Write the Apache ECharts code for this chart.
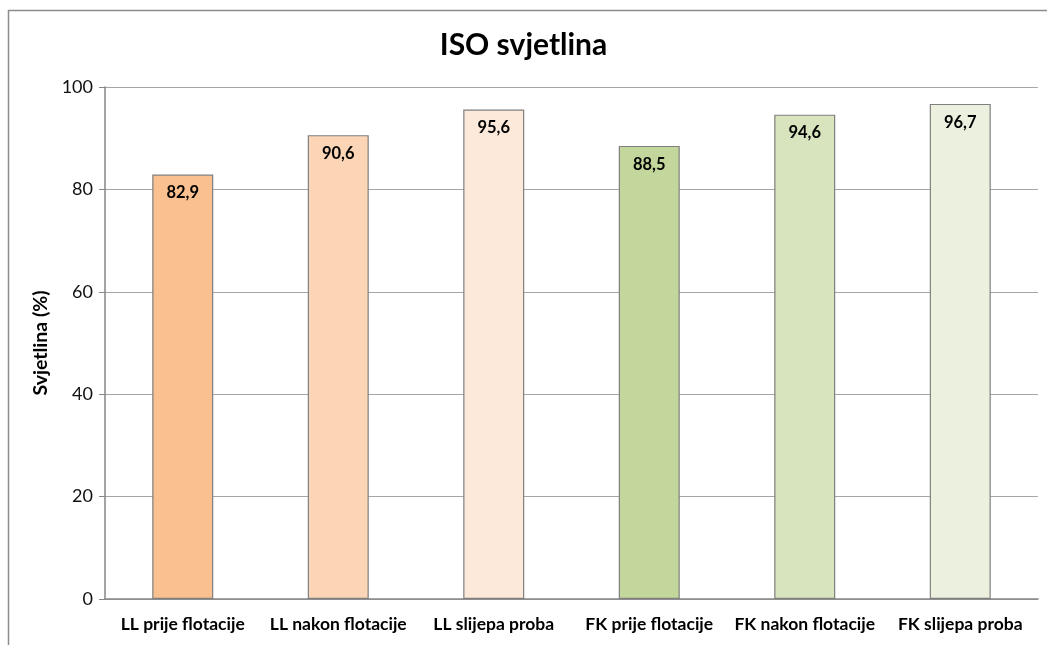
<!DOCTYPE html>
<html>
<head>
<meta charset="utf-8">
<script src="https://cdn.jsdelivr.net/npm/echarts@6/dist/echarts.min.js"></script>
<style>
html,body{margin:0;padding:0;background:#fff;}
#chart{width:1047px;height:645px;}
</style>
</head>
<body>
<div id="chart"></div>
<script>
const categories = ['LL prije flotacije','LL nakon flotacije','LL slijepa proba','FK prije flotacije','FK nakon flotacije','FK slijepa proba'];
const values = [82.9, 90.6, 95.6, 88.5, 94.6, 96.7];
const barColors = ['#FAC090','#FBD5B5','#FDE9D9','#C3D69B','#D7E4BD','#EBF1DE'];
const yTicks = [0, 20, 40, 60, 80, 100];

const chart = echarts.init(document.getElementById('chart'));
const fontFam = 'Lato, "Open Sans", sans-serif';
chart.setOption({
  animation: false,
  backgroundColor: '#fff',
  graphic: [{
    type: 'rect', left: 6, top: 8, silent: true,
    shape: {width: 1200, height: 800},
    style: {fill: 'none', stroke: '#8c8c8c', lineWidth: 1.5}
  }],
  title: {
    text: 'ISO svjetlina', left: 'center', top: 30, padding: 0,
    textStyle: {fontFamily: fontFam, fontWeight: 'bold', fontSize: 30, color: '#000'}
  },
  grid: {left: 105, right: 9, top: 87, bottom: 46, containLabel: false},
  xAxis: {
    type: 'category', data: categories,
    axisLine: {lineStyle: {color: '#868686', width: 1.5}},
    axisTick: {show: false},
    axisLabel: {fontFamily: fontFam, fontWeight: 'bold', fontSize: 17.5, color: '#000', margin: 16, interval: 0}
  },
  yAxis: {
    type: 'value', min: 0, max: 100, interval: 20,
    name: 'Svjetlina (%)', nameLocation: 'middle', nameGap: 51, nameRotate: 90,
    nameTextStyle: {fontFamily: fontFam, fontWeight: 'bold', fontSize: 19.5, color: '#000'},
    axisLine: {show: true, lineStyle: {color: '#868686', width: 1.5}},
    axisTick: {show: true, length: 6, lineStyle: {color: '#868686'}},
    splitLine: {lineStyle: {color: '#a6a6a6', width: 1.2}},
    axisLabel: {
      fontFamily: fontFam, fontSize: 18, color: '#111', margin: 12,
      formatter: v => yTicks.includes(v) ? String(v) : ''
    }
  },
  series: [{
    type: 'bar', barWidth: 61,
    data: values.map((v, i) => ({value: v, itemStyle: {color: barColors[i]}})),
    itemStyle: {borderColor: '#7f7f7f', borderWidth: 1.2},
    label: {
      show: true, position: 'insideTop', distance: 10,
      fontFamily: fontFam, fontWeight: 'bold', fontSize: 16.5, color: '#000',
      formatter: p => p.value.toFixed(1).replace('.', ',')
    }
  }]
});
</script>
</body>
</html>
